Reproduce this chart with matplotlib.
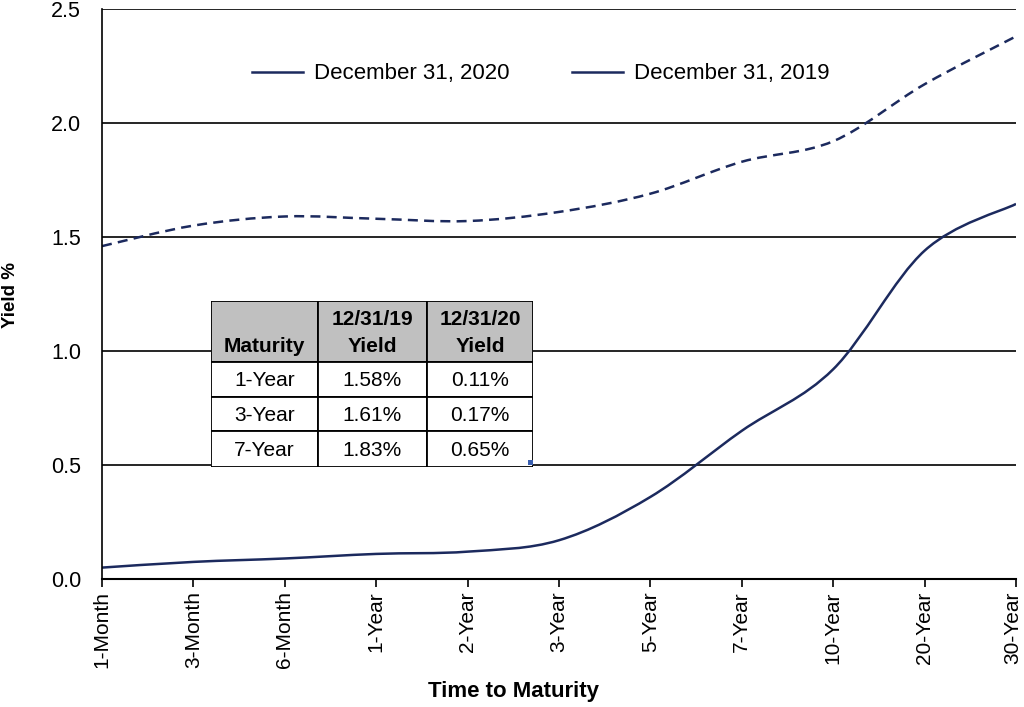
import numpy as np
import matplotlib.pyplot as plt
import matplotlib.transforms as mtransforms
from matplotlib.path import Path
from matplotlib.patches import PathPatch, Rectangle
from matplotlib.lines import Line2D

plt.rcParams['font.family'] = ['Liberation Sans', 'DejaVu Sans']

maturities = ['1-Month', '3-Month', '6-Month', '1-Year', '2-Year', '3-Year',
              '5-Year', '7-Year', '10-Year', '20-Year', '30-Year']
yield_2019 = [1.46, 1.55, 1.59, 1.58, 1.57, 1.61, 1.69, 1.83, 1.92, 2.17, 2.38]
yield_2020 = [0.05, 0.075, 0.09, 0.11, 0.12, 0.17, 0.36, 0.65, 0.92, 1.44, 1.645]

table_cols = ['Maturity', '12/31/19\nYield', '12/31/20\nYield']
table_rows = [['1-Year', '1.58%', '0.11%'],
              ['3-Year', '1.61%', '0.17%'],
              ['7-Year', '1.83%', '0.65%']]

navy = '#1c2a5e'


def smooth_path(x, y, tension=1 / 6):
    # Excel-style smoothed line: cardinal spline drawn as cubic Bezier segments
    x = np.asarray(x, float)
    y = np.asarray(y, float)
    px = np.concatenate([[x[0]], x, [x[-1]]])
    py = np.concatenate([[y[0]], y, [y[-1]]])
    verts = [(x[0], y[0])]
    codes = [Path.MOVETO]
    for i in range(1, len(x)):
        c1 = (px[i] + (px[i + 1] - px[i - 1]) * tension, py[i] + (py[i + 1] - py[i - 1]) * tension)
        c2 = (px[i + 1] - (px[i + 2] - px[i]) * tension, py[i + 1] - (py[i + 2] - py[i]) * tension)
        verts += [c1, c2, (x[i], y[i])]
        codes += [Path.CURVE4] * 3
    return Path(verts, codes)


fig = plt.figure(figsize=(10.24, 7.07), dpi=100)
ax = fig.add_axes([102 / 1024, 1 - 579 / 707, 914 / 1024, 570 / 707])

xs = np.arange(len(maturities))
ax.add_patch(PathPatch(smooth_path(xs, yield_2019), fill=False, edgecolor=navy,
                       lw=1.8, linestyle=(0, (4, 2.5))))
ax.add_patch(PathPatch(smooth_path(xs, yield_2020), fill=False, edgecolor=navy, lw=1.8))

ax.set_xlim(0, len(maturities) - 1)
ax.set_ylim(0, 2.5)
ax.set_yticks(np.arange(0, 2.51, 0.5))
ax.set_yticklabels([f'{v:.1f}' for v in np.arange(0, 2.51, 0.5)], fontsize=15.5)
ax.set_xticks(xs)
ax.set_xticklabels(maturities, rotation=90, fontsize=15)
ax.tick_params(axis='y', length=0, pad=15)
ax.tick_params(axis='x', length=6, width=1.2, direction='out', pad=3)
ax.grid(axis='y', color='black', lw=1.2)
ax.set_axisbelow(True)
for s in ['top', 'right']:
    ax.spines[s].set_visible(False)
ax.spines['left'].set_linewidth(1.2)
ax.spines['bottom'].set_linewidth(1.5)

# keep the last label inside the canvas
last = ax.get_xticklabels()[-1]
last.set_transform(last.get_transform() + mtransforms.ScaledTranslation(-3 / 100, 0, fig.dpi_scale_trans))

fig.text(514 / 1024, 1 - 692 / 707, 'Time to Maturity', fontsize=16, fontweight='bold',
         ha='center', va='center')
fig.text(11 / 1024, 1 - 295 / 707, 'Yield %', fontsize=13.5, fontweight='bold',
         ha='center', va='center', rotation=90)

handles = [Line2D([], [], color=navy, lw=1.8), Line2D([], [], color=navy, lw=1.8)]
ax.legend(handles, ['December 31, 2020', 'December 31, 2019'], ncol=2, frameon=False,
          loc='center', bbox_to_anchor=((541 - 102) / 914, (579 - 74) / 570),
          fontsize=16, handlelength=2.3, handletextpad=0.5, columnspacing=2.8)

# summary table, drawn in its own pixel-sized axes
tx0, tx1, ty0, ty1 = 211, 533, 301, 467
tax = fig.add_axes([tx0 / 1024, 1 - ty1 / 707, (tx1 - tx0) / 1024, (ty1 - ty0) / 707])
tax.set_xlim(0, tx1 - tx0)
tax.set_ylim(ty1 - ty0, 0)
tax.axis('off')
col_edges = [0, 107, 216, 322]
row_edges = [0, 61, 96, 130, 166]
for r in range(4):
    for c in range(3):
        x0, x1 = col_edges[c], col_edges[c + 1]
        y0, y1 = row_edges[r], row_edges[r + 1]
        tax.add_patch(Rectangle((x0, y0), x1 - x0, y1 - y0,
                                facecolor='#c0c0c0' if r == 0 else 'white',
                                edgecolor='black', lw=1.3))
        xc = (x0 + x1) / 2
        if r == 0:
            top, bottom = table_cols[c].split('\n') if '\n' in table_cols[c] else ('', table_cols[c])
            if top:
                tax.text(xc, 18, top, ha='center', va='center', fontsize=15, fontweight='bold')
            tax.text(xc, 45, bottom, ha='center', va='center', fontsize=15, fontweight='bold')
        else:
            tax.text(xc, (y0 + y1) / 2 + 1, table_rows[r - 1][c], ha='center', va='center', fontsize=15)
tax.add_patch(Rectangle((317, 159), 5, 5, facecolor='#3a5fb0', edgecolor='none'))

fig.savefig('out.png', dpi=100)
